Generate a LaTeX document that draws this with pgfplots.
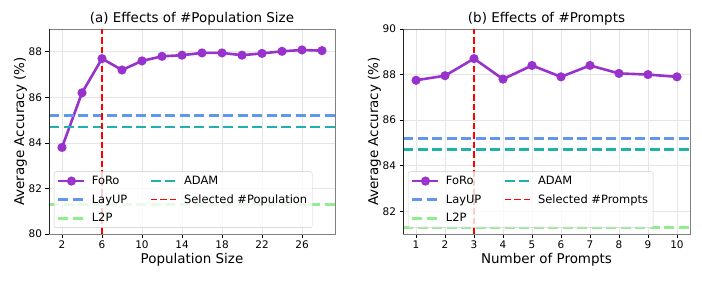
\documentclass[border=0pt]{standalone}
\usepackage{fontspec}
\setmainfont{DejaVu Sans}
\usepackage{pgfplots}
\pgfplotsset{compat=1.18}
\definecolor{foro}{HTML}{9932CC}
\definecolor{layup}{HTML}{6495ED}
\definecolor{adam}{HTML}{20B2AA}
\definecolor{ltp}{HTML}{90EE90}
\pgfplotsset{
 legend image code/.code={\draw[mark repeat=2,mark phase=2,#1] plot coordinates {(0bp,0bp) (13bp,0bp) (26bp,0bp)};},
 myaxis/.style={
  scale only axis, height=205bp,
  grid=major, major grid style={black!10, line width=0.6bp},
  tick align=outside, tick pos=left, major tick length=3.5bp,
  tick style={black, line width=0.6bp},
  axis line style={black!50, line width=0.9bp},
  ticklabel style={font=\fontsize{10.5}{12}\selectfont},
  /pgf/number format/assume math mode=true,
  xlabel style={font=\fontsize{13.5}{15}\selectfont, at={(axis description cs:0.5,-0.127)}, anchor=center},
  ylabel style={font=\fontsize{13.5}{15}\selectfont, at={(axis description cs:-0.1,0.5)}, anchor=center, rotate=0},
  every axis title shift=0pt,
  title style={font=\fontsize{13.5}{15}\selectfont, at={(axis description cs:0.5,1.049)}, anchor=center, yshift=0pt},
  legend columns=2,
  legend cell align=left,
  legend style={at={(0.017,0.03)}, anchor=south west, draw=black!20, rounded corners=2bp,
    fill=white, fill opacity=0.8, text opacity=1, font=\fontsize{11.5}{13}\selectfont,
    inner xsep=3bp, inner ysep=2.5bp,
    /tikz/every odd column/.append style={column sep=4bp},
    /tikz/every even column/.append style={column sep=20bp}, row sep=4.5bp},
 },
 foros/.style={foro, line width=2.6bp, mark=*, mark size=3.2bp, mark options={solid, fill=foro}},
 hline/.style={line width=2.8bp, dash pattern=on 10bp off 4.5bp},
 vline/.style={red, line width=1.8bp, dash pattern=on 6.5bp off 3bp},
}
\begin{document}
\begin{tikzpicture}
\path[use as bounding box] (0,0) rectangle (702bp,281bp);
% ---------- (a)
\begin{axis}[myaxis, at={(49bp,47bp)}, anchor=south west, width=286bp,
  xmin=0.7, xmax=29.3, ymin=80, ymax=89,
  xtick={2,6,10,14,18,22,26}, ytick={80,82,84,86,88},
  xlabel={Population Size}, ylabel={Average Accuracy (\%)},
  title={(a) Effects of \#Population Size}]
\addplot[foros] coordinates {
(2,83.8) (4,86.2) (6,87.7) (8,87.2) (10,87.6) (12,87.8) (14,87.85)
(16,87.95) (18,87.95) (20,87.85) (22,87.93) (24,88.02) (26,88.08) (28,88.05)};
\addlegendentry{FoRo}
\addplot[hline, adam] coordinates {(0.7,84.7) (29.3,84.7)};
\addlegendentry{ADAM}
\addplot[hline, layup] coordinates {(0.7,85.2) (29.3,85.2)};
\addlegendentry{LayUP}
\addplot[vline] coordinates {(6,80) (6,89)};
\addlegendentry{Selected \#Population}
\addplot[hline, ltp] coordinates {(0.7,81.3) (29.3,81.3)};
\addlegendentry{L2P}
\draw[black!85, line width=0.9bp] (rel axis cs:0,1) -- (rel axis cs:0,0) -- (rel axis cs:1,0);
\end{axis}
% ---------- (b)
\begin{axis}[myaxis, at={(403bp,47bp)}, anchor=south west, width=287bp,
  xmin=0.55, xmax=10.45, ymin=81, ymax=90,
  xtick={1,2,3,4,5,6,7,8,9,10}, ytick={82,84,86,88,90},
  xlabel={Number of Prompts}, ylabel={Average Accuracy (\%)},
  title={(b) Effects of \#Prompts}]
\addplot[foros] coordinates {
(1,87.75) (2,87.95) (3,88.7) (4,87.8) (5,88.4) (6,87.9) (7,88.4) (8,88.05) (9,88.0) (10,87.9)};
\addlegendentry{FoRo}
\addplot[hline, adam] coordinates {(0.55,84.7) (10.45,84.7)};
\addlegendentry{ADAM}
\addplot[hline, layup] coordinates {(0.55,85.2) (10.45,85.2)};
\addlegendentry{LayUP}
\addplot[vline] coordinates {(3,81) (3,90)};
\addlegendentry{Selected \#Prompts}
\addplot[hline, ltp] coordinates {(0.55,81.3) (10.45,81.3)};
\addlegendentry{L2P}
\draw[black!85, line width=0.9bp] (rel axis cs:0,1) -- (rel axis cs:0,0) -- (rel axis cs:1,0);
\end{axis}
\end{tikzpicture}
\end{document}
